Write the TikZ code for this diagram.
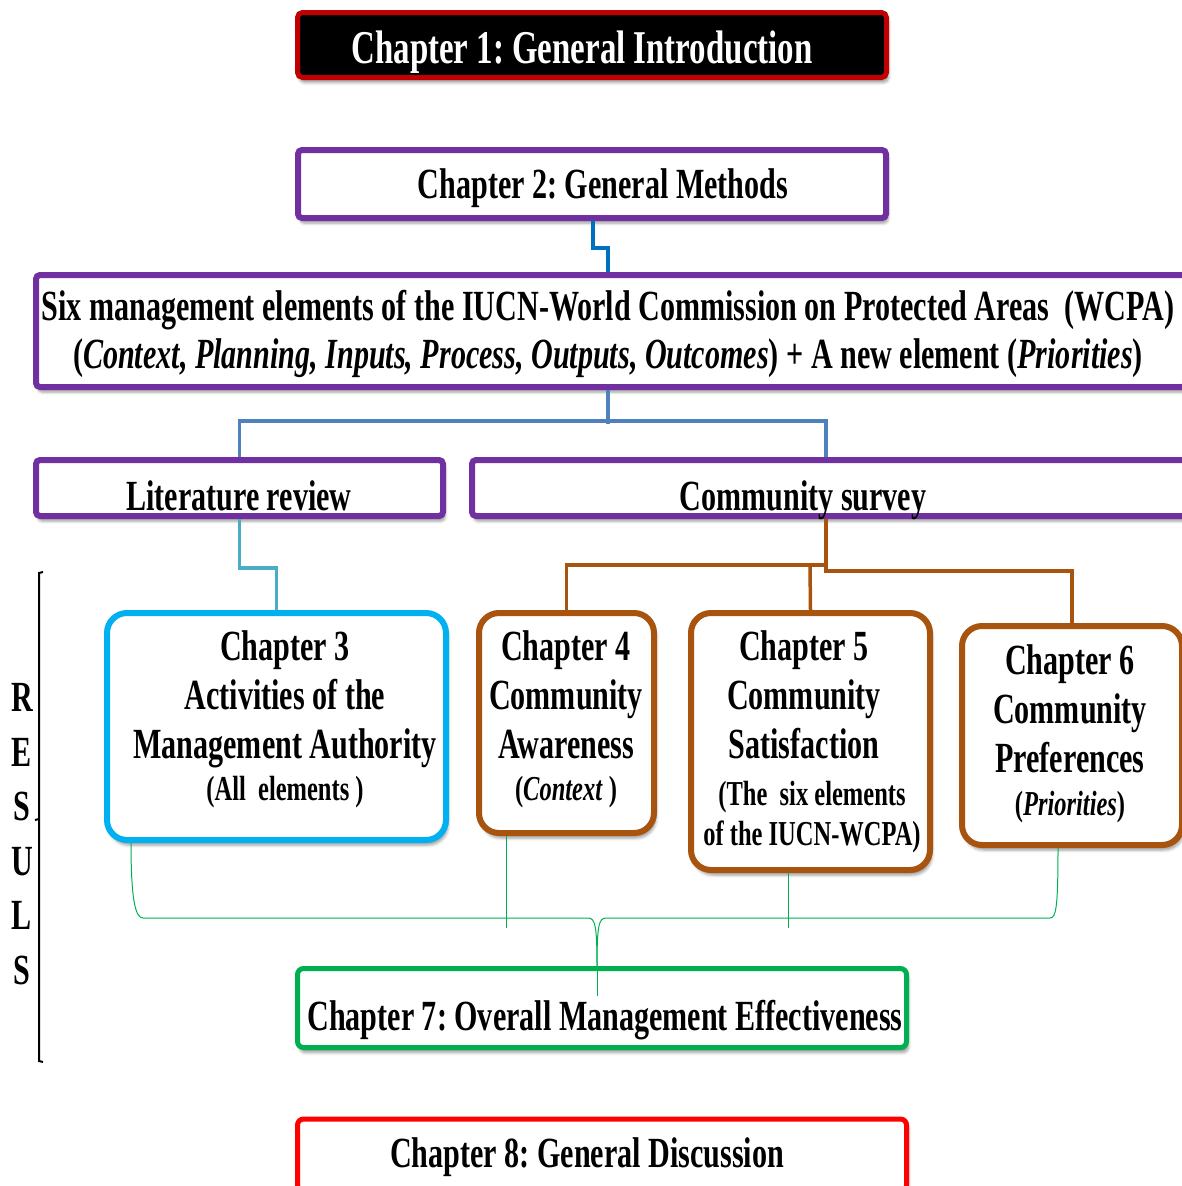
\documentclass[tikz,border=0pt]{standalone}
\usepackage{fontspec}
\setmainfont{Liberation Serif}[FakeStretch=0.7]
\usetikzlibrary{shadows.blur}
\frenchspacing
\definecolor{cpurple}{HTML}{7030A0}
\definecolor{cdarkred}{HTML}{C00000}
\definecolor{cblueA}{HTML}{0070C0}
\definecolor{cblueB}{HTML}{4F81BD}
\definecolor{cblueC}{HTML}{4BACC6}
\definecolor{csky}{HTML}{00B0F0}
\definecolor{cbrown}{HTML}{A8530E}
\definecolor{cgreen}{HTML}{00B050}
\definecolor{cred}{HTML}{FF0000}
\begin{document}
\begin{tikzpicture}[x=1pt,y=-1pt,
  box/.style={draw, fill=white, line width=6pt, rounded corners=4pt, inner sep=0pt,
    blur shadow={shadow xshift=2pt, shadow yshift=-5pt, shadow blur radius=3pt, shadow opacity=40}},
  chapbox/.style={box, rounded corners=20pt},
  label/.style={font=\bfseries\fontsize{43}{49}\selectfont, align=center, inner sep=0pt, anchor=base},
  note/.style={label, font=\bfseries\fontsize{35}{40}\selectfont},
  lnk/.style={line width=3.5pt}]
\useasboundingbox (0,0) rectangle (1182,1186);
\clip (0,0) rectangle (1182,1186);

% ---- boxes ----
\node[box, fill=black, draw=cdarkred, line width=5pt, rounded corners=5pt, minimum width=589pt, minimum height=65pt] (b1) at (592,45) {};
\node[box, draw=cpurple, minimum width=588pt, minimum height=68pt] (b2) at (592,184) {};
\node[box, draw=cpurple, minimum width=1150pt, minimum height=112pt] (b3) at (611,331) {};
\node[box, draw=cpurple, minimum width=407pt, minimum height=56pt] (lit) at (239.5,488) {};
\node[box, draw=cpurple, minimum width=718pt, minimum height=56pt] (cs) at (831,488) {};
\node[chapbox, draw=csky, minimum width=339pt, minimum height=227pt] (ch3) at (276.5,726.5) {};
\node[chapbox, draw=cbrown, minimum width=175pt, minimum height=220pt] (ch4) at (566.5,723) {};
\node[chapbox, draw=cbrown, minimum width=239pt, minimum height=257pt] (ch5) at (810.5,741.5) {};
\node[chapbox, draw=cbrown, minimum width=220pt, minimum height=219pt] (ch6) at (1072,735.5) {};
\node[box, draw=cgreen, line width=5pt, rounded corners=6pt, minimum width=609pt, minimum height=79pt] (ch7) at (602,1008) {};
\node[box, draw=cred, line width=5pt, rounded corners=6pt, minimum width=609pt, minimum height=72pt] (ch8) at (602,1155) {};

% ---- connectors ----
\draw[lnk, cblueA] (b2.south -| 593,0) -- ++(0,27) -| (b3.north -| 608,0);
\draw[lnk, cblueB] (b3.south -| 608,0) -- (608,424);
\draw[lnk, cblueB] (lit.north) -- ++(0,-36) -| (cs.north -| 826,0);
\draw[lnk, cblueC] (lit.south) -- ++(0,49) -| (ch3.north);
\draw[lnk, cbrown] (cs.south -| 826,0) -- (826,571) -| (ch6.north);
\draw[lnk, cbrown] (826,565) -| (ch4.north);
\draw[lnk, cbrown] (810,565) -- (ch5.north);

% ---- green brace into chapter 7 ----
\coordinate (gtip) at (ch7.north -| 597,0);
\draw[cgreen, line width=1pt] ([xshift=27pt]ch3.south west)
  .. controls ++(0,60) and (136,918) .. (143,918) -- (588,918)
  .. controls (595,918) and (597,925) .. (gtip);
\draw[cgreen, line width=1pt] ([xshift=-14pt]ch6.south)
  .. controls ++(0,60) and (1056,918) .. (1050,918) -- (606,918)
  .. controls (599,918) and (597,925) .. (gtip);
\draw[cgreen, line width=1pt] (gtip) -- ++(0,30);
\draw[cgreen, line width=0.8pt] (ch4.south -| 506,0) -- ++(0,92);
\draw[cgreen, line width=0.8pt] (ch5.south -| 788,0) -- ++(0,55);

% ---- texts (each node sits on the baseline of its last line) ----
\node[label, white, font=\bfseries\fontsize{47}{52}\selectfont] (t1) at (582,63) {Chapter 1: General Introduction};
\node[label] (t2) at (603,198) {Chapter 2: General Methods};
\node[label, font=\bfseries\fontsize{43}{48}\selectfont] (t3) at (608,368)
  {Six management elements of the IUCN-World Commission on Protected Areas\ \ (WCPA)\\
   (\textit{Context, Planning, Inputs, Process, Outputs, Outcomes}) + A new element (\textit{Priorities})};
\node[label] (tl) at (239,510) {Literature review};
\node[label] (tc) at (803,510) {Community survey};
\node[label] (t3c) at (285,758) {Chapter 3\\Activities of the\\Management Authority};
\node[note] (t3n) at (285,800) {(All\ \ elements )};
\node[label] (t4c) at (566,758) {Chapter 4\\Community\\Awareness};
\node[note] (t4n) at (566,800) {(\textit{Context} )};
\node[label] (t5c) at (804,758) {Chapter 5\\Community\\Satisfaction};
\node[note] (t5n) at (812,845) {(The\ \ six elements\\of the IUCN-WCPA)};
\node[label] (t6c) at (1070,772) {Chapter 6\\Community\\Preferences};
\node[note] (t6n) at (1070,815) {(\textit{Priorities})};
\node[label] (t7) at (605,1030) {Chapter 7: Overall Management Effectiveness};
\node[label] (t8) at (587,1167) {Chapter 8: General Discussion};

% ---- results brace ----
\node[label, font=\bfseries\fontsize{43}{54.5}\selectfont] (res) at (22,984) {R\\E\\S\\U\\L\\S};
\draw[line width=2pt] (43,572) -- (39,573) -- (39,1061) -- (43,1062);
\draw[line width=2pt] (39,819) -- (35,820);
\end{tikzpicture}
\end{document}
